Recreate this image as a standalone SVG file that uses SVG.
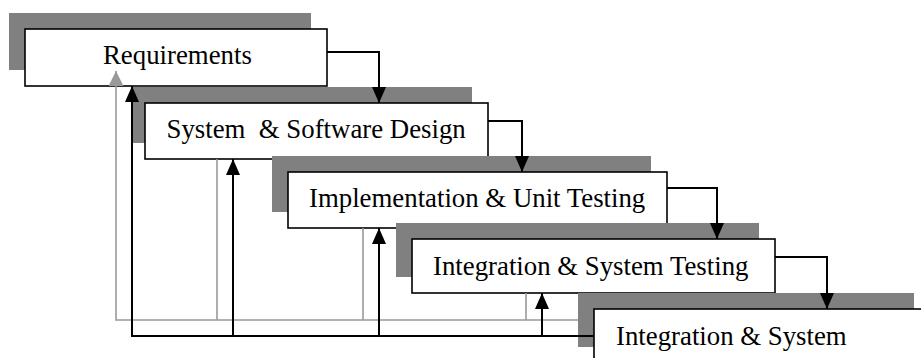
<svg xmlns="http://www.w3.org/2000/svg" width="921" height="358" viewBox="0 0 921 358">
<style>
.shadow{fill:#808080;stroke:none}
.box{fill:#fff;stroke:#000;stroke-width:1.6}
.label{font-family:"Liberation Serif","Times New Roman",serif;font-size:26.8px;fill:#000;white-space:pre}
.fwd{fill:none;stroke:#000;stroke-width:2}
.fb{fill:none;stroke:#000;stroke-width:2}
.gray{fill:none;stroke:#999;stroke-width:1.6}
</style>
<defs>
<marker id="ah" viewBox="0 0 16 14" refX="16" refY="7" markerWidth="16" markerHeight="14" markerUnits="userSpaceOnUse" orient="auto">
<path d="M0,0 L16,7 L0,14 z" fill="#000"/>
</marker>
<marker id="ahg" viewBox="0 0 15 15" refX="15" refY="7.5" markerWidth="15" markerHeight="15" markerUnits="userSpaceOnUse" orient="auto">
<path d="M0,0 L15,7.5 L0,15 z" fill="#999"/>
</marker>
</defs>
<rect width="921" height="358" fill="#fff"/>
<g id="requirements">
<rect class="shadow" x="9" y="13" width="302" height="57"/>
<rect class="box" x="25" y="29" width="302" height="57"/>
<text class="label" x="103" y="64">Requirements</text>
</g>
<g id="design">
<rect class="shadow" x="131" y="87" width="341" height="56"/>
<rect class="box" x="145" y="103" width="343" height="56"/>
<text class="label" x="166.5" y="138" xml:space="preserve">System  &amp; Software Design</text>
</g>
<g id="implementation">
<rect class="shadow" x="272" y="156" width="379" height="56"/>
<rect class="box" x="288" y="172" width="379" height="56"/>
<text class="label" x="309" y="207">Implementation &amp; Unit Testing</text>
</g>
<g id="integration-testing">
<rect class="shadow" x="396" y="223" width="363" height="54"/>
<rect class="box" x="412" y="239" width="363" height="54"/>
<text class="label" x="433" y="275">Integration &amp; System Testing</text>
</g>
<g id="integration-system">
<rect class="shadow" x="578" y="293" width="336" height="54"/>
<rect class="box" x="594" y="309" width="336" height="54"/>
<text class="label" x="616" y="345">Integration &amp; System</text>
</g>
<g id="connectors">
<path class="gray" d="M578,320 H116 V71" marker-end="url(#ahg)"/>
<path class="gray" d="M217,159 V320"/>
<path class="gray" d="M363,228 V320"/>
<path class="gray" d="M526,293 V320"/>
<path class="fb" d="M594,336 H132 V86" marker-end="url(#ah)"/>
<path class="fb" d="M233,336 V159" marker-end="url(#ah)"/>
<path class="fb" d="M379,336 V228" marker-end="url(#ah)"/>
<path class="fb" d="M542,336 V293" marker-end="url(#ah)"/>
<path class="fwd" d="M327,52 H379 V103" marker-end="url(#ah)"/>
<path class="fwd" d="M488,121 H522 V172" marker-end="url(#ah)"/>
<path class="fwd" d="M667,188 H717 V239" marker-end="url(#ah)"/>
<path class="fwd" d="M775,257 H827 V309" marker-end="url(#ah)"/>
</g>
</svg>
